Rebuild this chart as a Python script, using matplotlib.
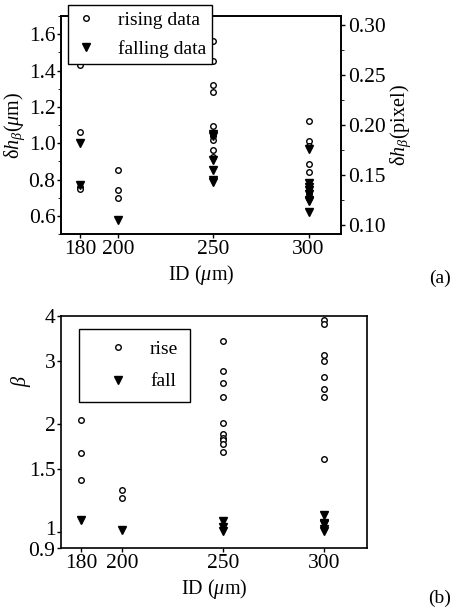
import matplotlib
matplotlib.use("Agg")
import matplotlib.pyplot as plt
from matplotlib.ticker import FixedLocator, MultipleLocator, NullLocator, FixedFormatter
from matplotlib.transforms import ScaledTranslation

plt.rcParams['font.family'] = ['Liberation Serif', 'DejaVu Serif']
plt.rcParams['mathtext.fontset'] = 'custom'
plt.rcParams['mathtext.rm'] = 'Liberation Serif'
plt.rcParams['mathtext.it'] = 'Liberation Serif:italic'
plt.rcParams['font.size'] = 15.5
plt.rcParams['axes.labelsize'] = 14.5
plt.rcParams['legend.fontsize'] = 14

# --- panel (a): delta h_beta vs ID ---
rise_a = {
    180: [1.43, 1.06, 0.76, 0.75],
    200: [0.855, 0.74, 0.70],
    250: [1.565, 1.45, 1.32, 1.28, 1.095, 1.04, 1.02, 0.965, 0.925],
    300: [1.12, 1.01, 0.985, 0.885, 0.84, 0.77, 0.74, 0.72, 0.70],
}
fall_a = {
    180: [1.0, 0.77],
    200: [0.575],
    250: [1.05, 1.04, 0.91, 0.85, 0.80, 0.785],
    300: [0.97, 0.78, 0.76, 0.74, 0.72, 0.69, 0.68, 0.62],
}
um_per_pixel = 5.5

# --- panel (b): beta vs ID ---
rise_b = {
    180: [2.05, 1.66, 1.39],
    200: [1.31, 1.24],
    250: [3.40, 2.80, 2.60, 2.38, 2.01, 1.87, 1.83, 1.80, 1.76, 1.67],
    300: [3.90, 3.80, 3.11, 2.99, 2.70, 2.50, 2.37, 1.59],
}
fall_b = {
    180: [1.08],
    200: [1.01],
    250: [1.07, 1.03, 1.005],
    300: [1.11, 1.06, 1.05, 1.02, 1.005],
}
beta_ticks = [0.9, 1, 1.5, 2, 3, 4]
beta_labels = ["0.9", "1", "1.5", "2", "3", "4"]
ids = [180, 200, 250, 300]


def flat(d):
    xs, ys = [], []
    for k, v in d.items():
        xs += [k] * len(v)
        ys += v
    return xs, ys


fig = plt.figure(figsize=(4.56, 6.12), dpi=100)

# top panel
ax1 = fig.add_axes([0.1338, 0.6176, 0.614, 0.3562])
x, y = flat(rise_a)
ax1.plot(x, y, 'o', ms=4, mfc='white', mec='black', mew=1.0, ls='none', label='rising data')
x, y = flat(fall_a)
ax1.plot(x, y, 'v', ms=6, mfc='black', mec='black', ls='none', label='falling data')
ax1.set_xlim(170, 317)
ax1.set_ylim(0.5, 1.7)
ax1.set_xticks(ids)
ax1.yaxis.set_major_locator(MultipleLocator(0.2))
ax1.yaxis.set_minor_locator(MultipleLocator(0.1))
ax1.set_yticklabels(["%.1f" % v for v in ax1.get_yticks()])
ax1.tick_params(direction='out', length=3, pad=1, width=1)
ax1.tick_params(which='minor', direction='out', length=2)
ax1.set_xlabel(r'ID ($\mu$m)', labelpad=3)
ax1.set_ylabel(r'δ$h_\beta$($\mu$m)', labelpad=1)

ax1r = ax1.twinx()
ax1r.set_ylim(0.5 / um_per_pixel, 1.7 / um_per_pixel)
ax1r.yaxis.set_major_locator(MultipleLocator(0.05))
ax1r.yaxis.set_minor_locator(MultipleLocator(0.025))
ax1r.set_yticklabels(["%.2f" % v for v in ax1r.get_yticks()])
ax1r.tick_params(direction='out', length=3, pad=2, width=1)
ax1r.tick_params(which='minor', direction='out', length=2)
ax1r.set_ylabel(r'δ$h_\beta$(pixel)', labelpad=2)

leg1 = ax1.legend(loc='upper left', bbox_to_anchor=(0.025, 1.05), frameon=True,
                  fancybox=False, edgecolor='black', framealpha=1,
                  handletextpad=1.0, borderpad=0.3, labelspacing=0.6,
                  handlelength=1.25, borderaxespad=0)
leg1.get_frame().set_linewidth(1.0)
leg1.set_zorder(10)
ax1.set_zorder(ax1r.get_zorder() + 1)
ax1.patch.set_visible(False)
fig.text(0.965, 0.545, '(a)', ha='center', va='center', fontsize=14)

# bottom panel
ax2 = fig.add_axes([0.1338, 0.1046, 0.671, 0.379])
x, y = flat(rise_b)
ax2.plot(x, y, 'o', ms=4, mfc='white', mec='black', mew=1.0, ls='none', label='rise')
x, y = flat(fall_b)
ax2.plot(x, y, 'v', ms=6, mfc='black', mec='black', ls='none', label='fall')
ax2.set_yscale('log')
ax2.set_xlim(170, 321)
ax2.set_ylim(0.9, 4)
ax2.set_xticks(ids)
ax2.yaxis.set_major_locator(FixedLocator(beta_ticks))
ax2.yaxis.set_major_formatter(FixedFormatter(beta_labels))
ax2.yaxis.set_minor_locator(NullLocator())
ax2.tick_params(direction='out', length=3, pad=1, width=1)
ax2.set_xlabel(r'ID ($\mu$m)', labelpad=3)
ax2.set_ylabel(r'$\beta$')
ax2.yaxis.set_label_coords(-0.09, 0.72)
leg2 = ax2.legend(loc='upper left', bbox_to_anchor=(0.059, 0.944), frameon=True,
                  fancybox=False, edgecolor='black', framealpha=1,
                  handletextpad=0.25, borderpad=0.6, labelspacing=0.75,
                  handlelength=2.8, borderaxespad=0)
leg2.get_frame().set_linewidth(1.0)
fig.text(0.965, 0.023, '(b)', ha='center', va='center', fontsize=14)

# nudge the "1" and "0.9" labels apart like in the original
for tick, lab in zip(ax2.yaxis.get_major_ticks(), beta_labels):
    if lab == "1":
        tick.label1.set_transform(tick.label1.get_transform() +
                                  ScaledTranslation(0, 2.5 / 72, fig.dpi_scale_trans))
    elif lab == "0.9":
        tick.label1.set_transform(tick.label1.get_transform() +
                                  ScaledTranslation(0, -1.0 / 72, fig.dpi_scale_trans))

for ax in (ax1, ax1r, ax2):
    for s in ax.spines.values():
        s.set_linewidth(1.2)

fig.savefig('out.png', dpi=100)
